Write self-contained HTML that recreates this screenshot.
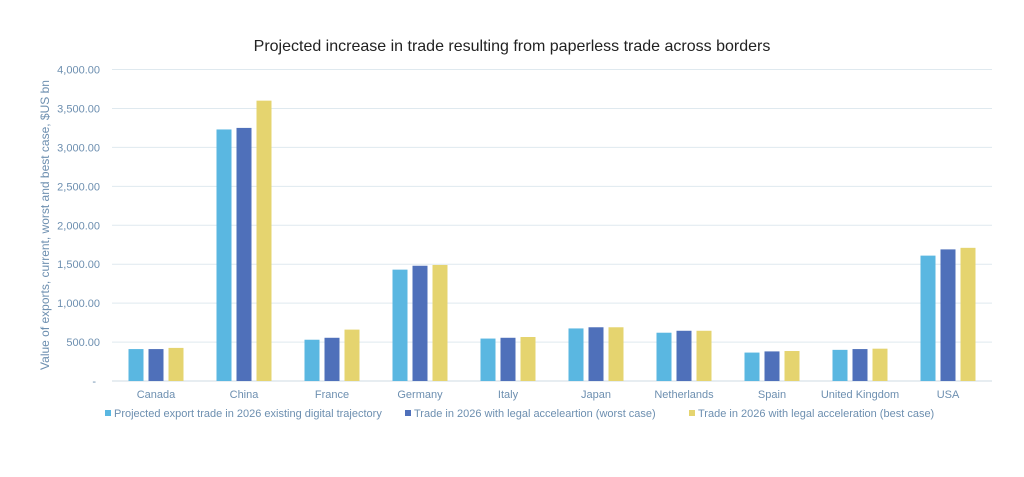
<!DOCTYPE html>
<html><head><meta charset="utf-8"><style>
body{margin:0;background:#fff;font-family:"Liberation Sans",sans-serif}
svg text{font-family:"Liberation Sans",sans-serif}
</style></head><body>
<svg id="c" width="1024" height="472">
<text x="512" y="51" text-anchor="middle" font-size="16" fill="#222">Projected increase in trade resulting from paperless trade across borders</text>
<text transform="translate(49,225) rotate(-90)" text-anchor="middle" font-size="12" fill="#6d8fb0">Value of exports, current, worst and best case, $US bn</text>
<g id="grid"></g><g id="bars"></g><g id="xl"></g><g id="legend"></g>
</svg>
<script>
const categories=["Canada","China","France","Germany","Italy","Japan","Netherlands","Spain","United Kingdom","USA"];
const projected=[410,3230,530,1430,545,675,620,365,400,1610];
const worstCase=[410,3250,555,1480,555,690,645,380,410,1690];
const bestCase=[425,3600,660,1490,565,690,645,385,415,1710];
const ticks=[0,500,1000,1500,2000,2500,3000,3500,4000];
const tickLabels=["-","500.00","1,000.00","1,500.00","2,000.00","2,500.00","3,000.00","3,500.00","4,000.00"];
const seriesNames=["Projected export trade in 2026 existing digital trajectory","Trade in 2026 with legal acceleartion (worst case)","Trade in 2026 with legal acceleration (best case)"];
const colors=["#5ab7e1","#4f70ba","#e5d46f"];
const ns="http://www.w3.org/2000/svg";
const X0=112,X1=992,Y0=381,Y1=69.5,VMAX=4000;
const y=v=>Y0-(v/VMAX)*(Y0-Y1);
const band=(X1-X0)/categories.length;
const xc=i=>X0+band*(i+0.5);
function mk(t,a,p){const e=document.createElementNS(ns,t);for(const k in a)e.setAttribute(k,a[k]);p.appendChild(e);return e;}
const grid=document.getElementById('grid');
ticks.forEach((t,i)=>{
 const l=mk('line',{x1:X0,x2:X1,y1:y(t),y2:y(t),stroke:i==0?'#cfdbe3':'#dfe9ef','stroke-width':1},grid);
 
 
 const tx=mk('text',{x:i==0?96:100,y:y(t)+4,'text-anchor':'end','font-size':11,fill:'#6d8fb0'},grid);
 tx.textContent=tickLabels[i];
 
 
});
const bars=document.getElementById('bars');
const series=[projected,worstCase,bestCase];
const bw=15,gap=5;
series.forEach((s,si)=>{s.forEach((v,i)=>{
 const x=xc(i)+(si-1)*(bw+gap)-bw/2;
 const r=mk('rect',{x:x,y:y(v),width:bw,height:Y0-y(v),fill:colors[si]},bars);
 
 
});});
const xl=document.getElementById('xl');
categories.forEach((c,i)=>{
 const t=mk('text',{x:xc(i),y:398,'text-anchor':'middle','font-size':11,fill:'#6d8fb0'},xl);
 t.textContent=c;
 
 
});
const lg=document.getElementById('legend');
const lx=[105,405,689];
seriesNames.forEach((n,i)=>{
 const r=mk('rect',{x:lx[i],y:410,width:6,height:6,fill:colors[i]},lg);
 
 
 const t=mk('text',{x:lx[i]+9,y:417,'font-size':11,fill:'#6d8fb0'},lg);
 t.textContent=n;
 
 
});
</script>
</body></html>
